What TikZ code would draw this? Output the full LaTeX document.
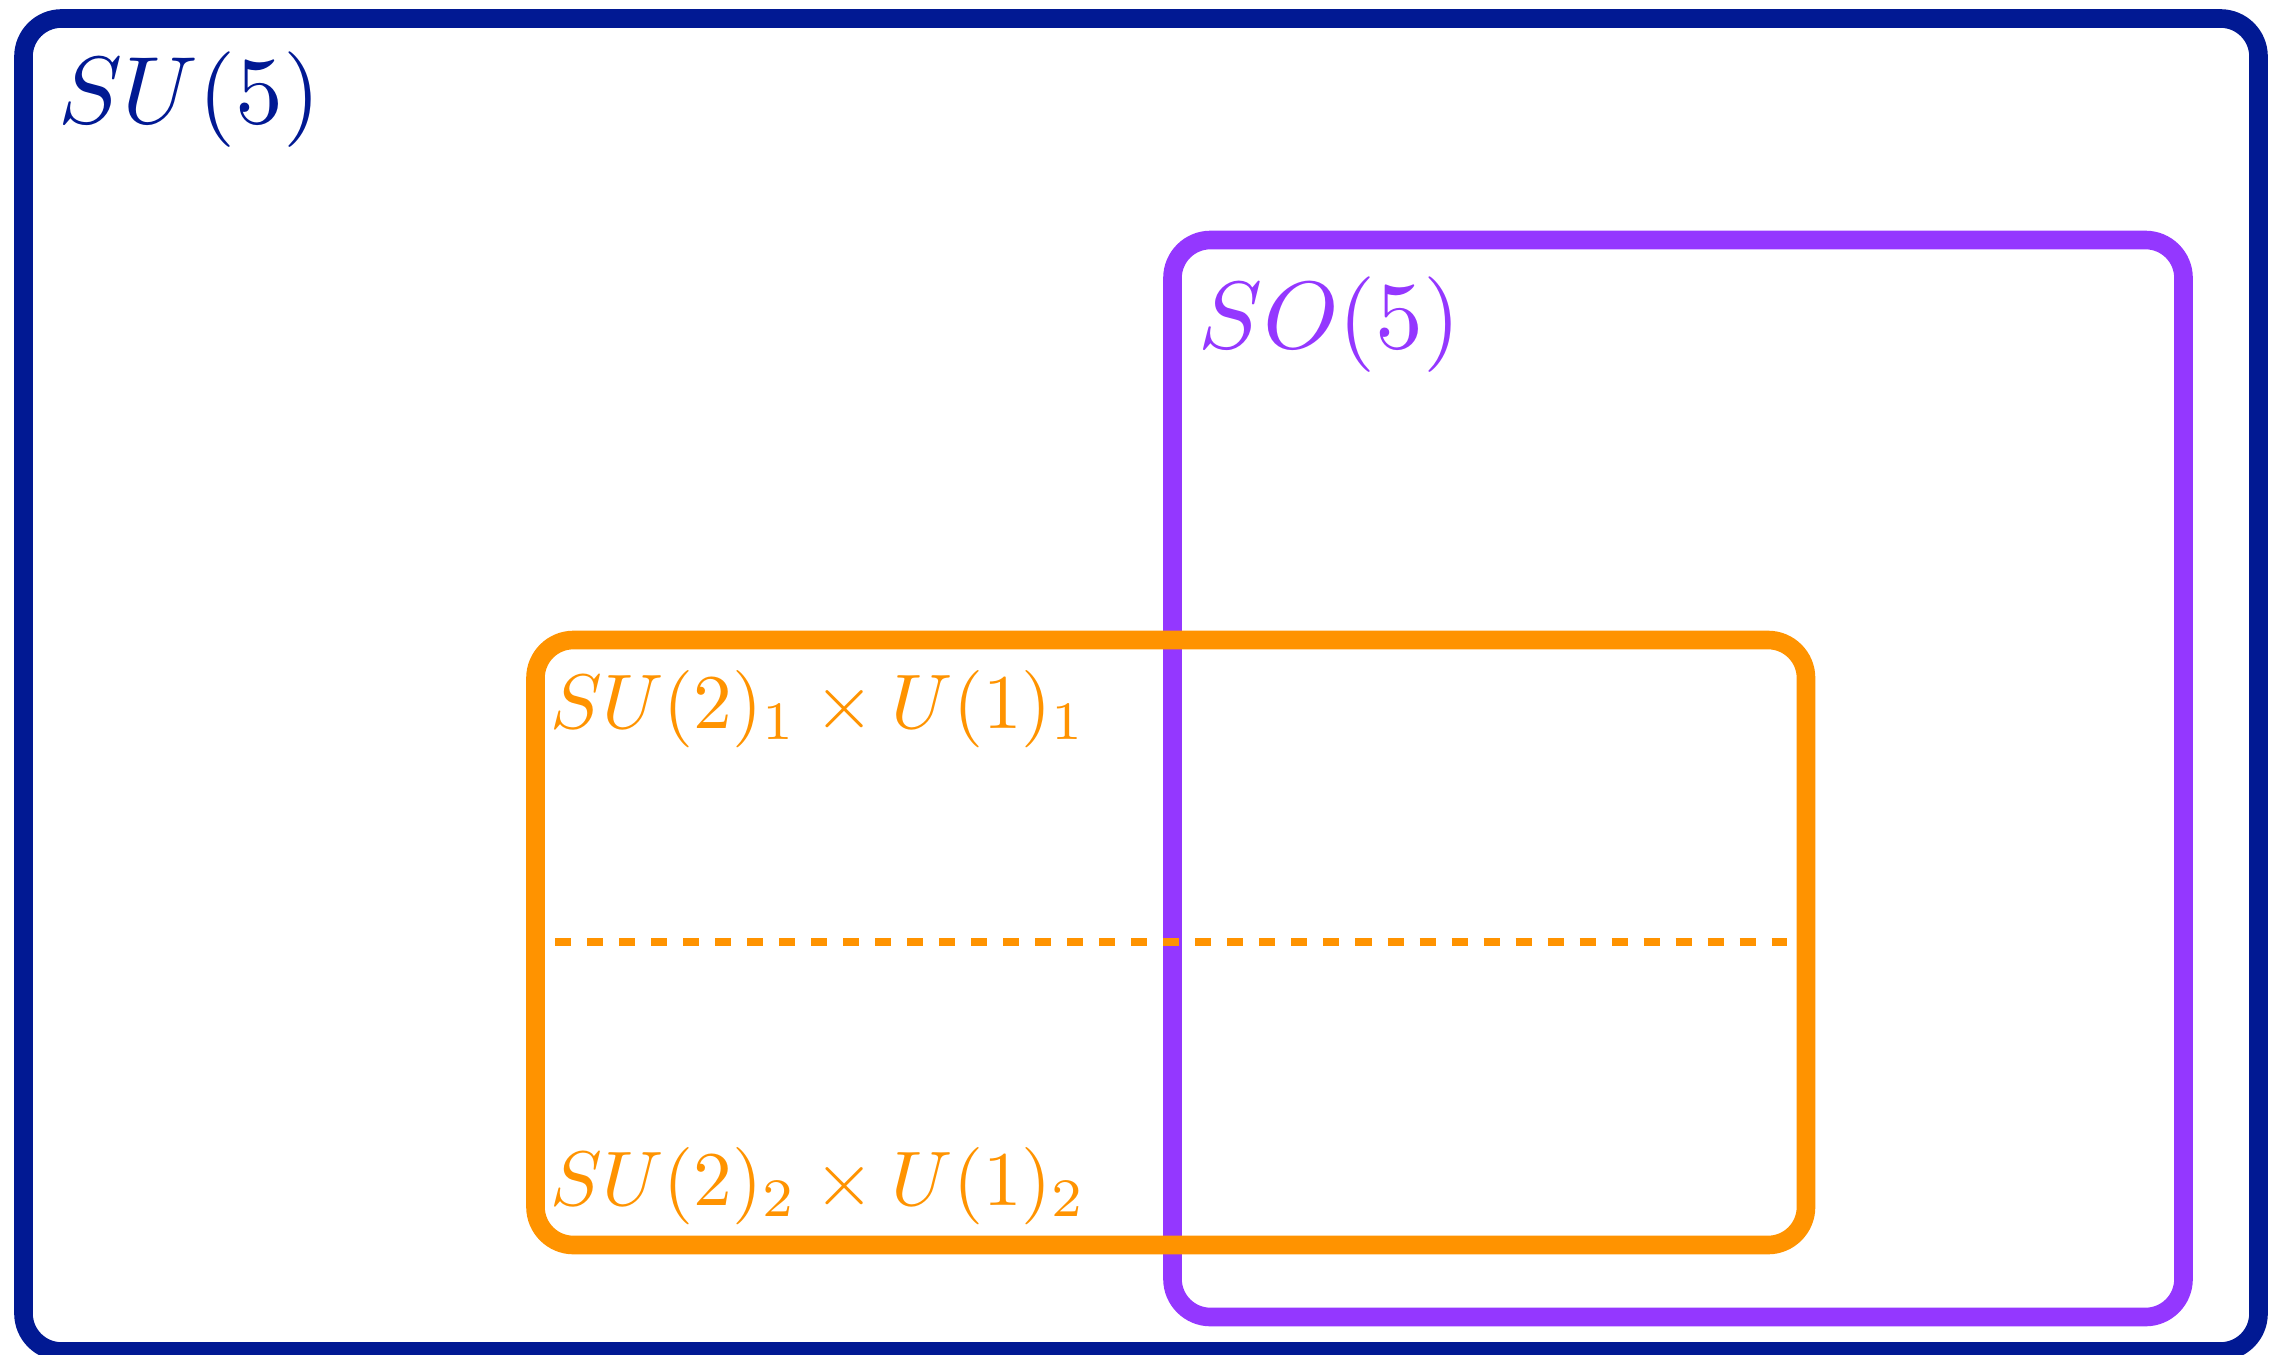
\documentclass[tikz,border=0pt]{standalone}
\definecolor{midnight}{HTML}{011993}
\definecolor{grape}{HTML}{9437FF}
\definecolor{tangerine}{HTML}{FF9300}
\tikzset{
  groupbox/.style={line width=5.3pt, rounded corners=0.38cm},
  biglabel/.style={anchor=base west, inner sep=0pt, scale=2.72},
  smalllabel/.style={anchor=base west, inner sep=0pt, scale=2.2},
  divider/.style={line width=2.3pt, dash pattern=on 0.16cm off 0.16cm}
}
\begin{document}
\begin{tikzpicture}[x=0.01cm,y=-0.01cm]
\useasboundingbox (0,0) rectangle (2269,1354);
% boxes
\draw[groupbox, midnight] (23.5,18.5) rectangle (2258.5,1351.5);
\draw[groupbox, grape] (1172.5,240) rectangle (2183.5,1317);
\draw[groupbox, tangerine] (535.5,640) rectangle (1806,1245);
% labels
\node[biglabel, text=midnight] (su5) at (57,123) {$SU(5)$};
\node[biglabel, text=grape] (so5) at (1197,348) {$SO(5)$};
\node[smalllabel, text=tangerine] (top) at (549,728) {$SU(2)_1\times U(1)_1$};
\node[smalllabel, text=tangerine] (bot) at (549,1205) {$SU(2)_2\times U(1)_2$};
% divider
\coordinate (dl) at (555,942);
\coordinate (dr) at (1787,942);
\draw[divider, tangerine] (dl) -- (dr);
\end{tikzpicture}
\end{document}
